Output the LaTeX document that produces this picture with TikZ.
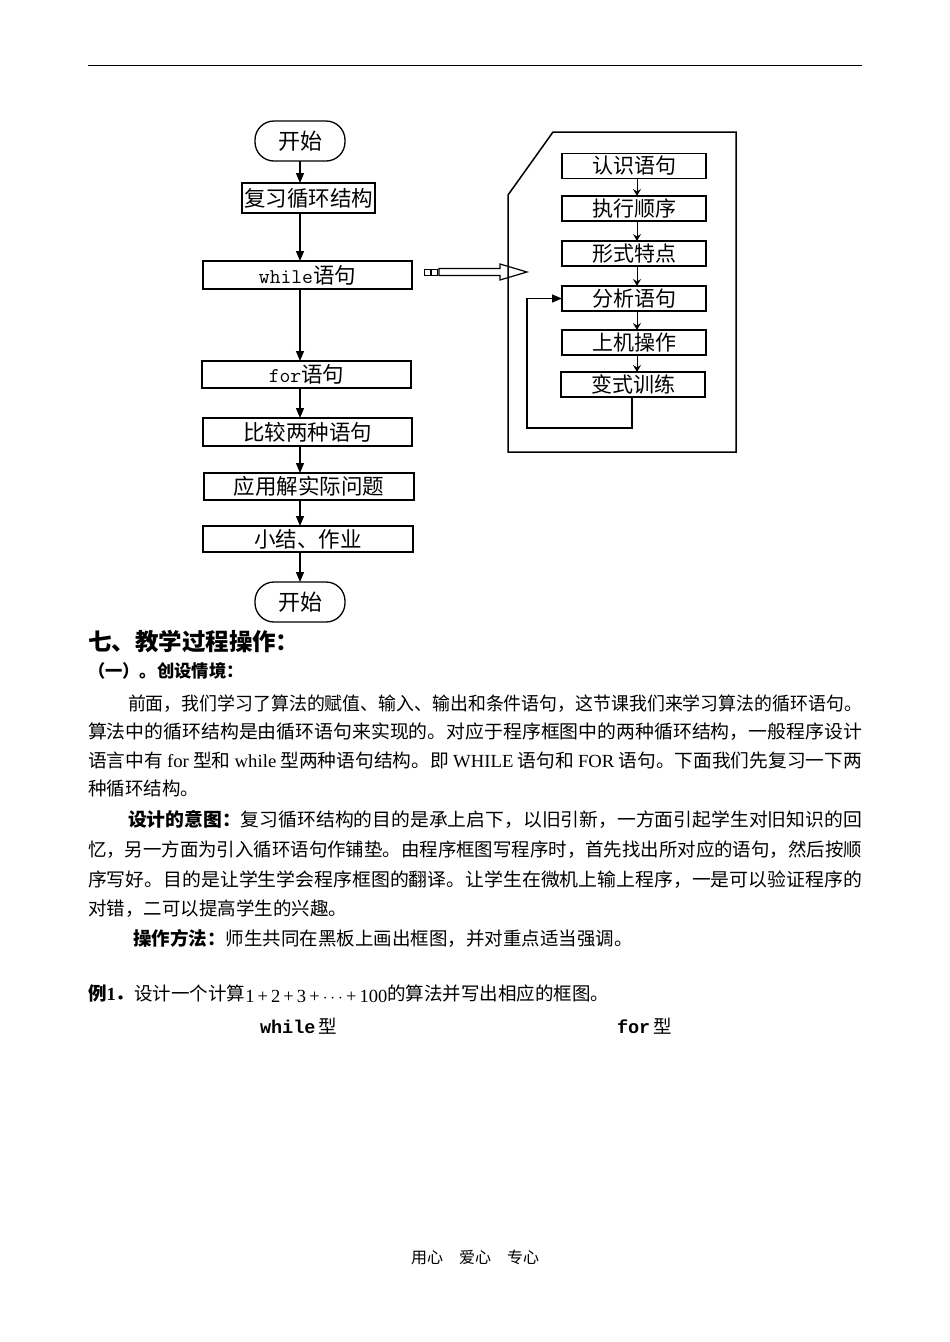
\documentclass[tikz,border=0pt]{standalone}
\usepackage{fontspec}
\usepackage{graphicx}
\setmainfont{Noto Sans CJK SC}
\newfontfamily\tm{Liberation Serif}
\newfontfamily\mono{Liberation Mono}
\newfontfamily\lmono{Latin Modern Mono}
\usetikzlibrary{arrows.meta,calc}
\newcommand\fitto[2]{\resizebox{#1}{\height}{#2}}
\begin{document}
\begin{tikzpicture}[x=1pt,y=-1pt,
 every node/.style={inner sep=0pt, outer sep=0pt},
 box/.style={draw, line width=1.3pt, minimum height=27pt, font=\fontsize{21.5}{24}\selectfont},
 oval/.style={draw, line width=1.3pt, rounded corners=19pt, minimum width=90pt, minimum height=40pt, font=\fontsize{22}{24}\selectfont},
 rbox/.style={draw, line width=1.3pt, minimum width=144pt, minimum height=25pt, font=\fontsize{21}{24}\selectfont},
 arr/.style={line width=1.3pt, -{Triangle[width=8pt,length=10pt]}},
 sarr/.style={line width=1pt, -{Stealth[width=8pt,length=7pt,inset=2.5pt]}},
 txt/.style={anchor=base west, font=\fontsize{18.5}{22}\selectfont},
]
\useasboundingbox (0,0) rectangle (950,1342);
% top rule
\draw[line width=1pt] (88,65) -- (862,65);

% main column
\node[oval] (start) at (300,141) {开始};
\node[box, minimum width=133pt, minimum height=30pt] (review) at (308.5,198) {复习循环结构};
\node[box, minimum width=209pt, minimum height=28pt] (while) at (307.5,275) {{\lmono\fontsize{21}{24}\selectfont while}语句};
\node[box, minimum width=209pt] (for) at (306.5,374.5) {{\lmono\fontsize{21}{24}\selectfont for}语句};
\node[box, minimum width=209pt, minimum height=28pt] (compare) at (307.5,432) {比较两种语句};
\node[box, minimum width=210pt] (apply) at (309,486.5) {应用解实际问题};
\node[box, minimum width=210pt, minimum height=26pt] (summary) at (308,539) {小结、作业};
\node[oval] (end) at (300,602) {开始};

\draw[arr] (start.south) -- (start.south |- review.north);
\draw[arr] (review.south -| start) -- (while.north -| start);
\draw[arr] (while.south -| start) -- (for.north -| start);
\draw[arr] (for.south -| start) -- (compare.north -| start);
\draw[arr] (compare.south -| start) -- (apply.north -| start);
\draw[arr] (apply.south -| start) -- (summary.north -| start);
\draw[arr] (summary.south -| start) -- (end.north);

% container
\coordinate (c1) at (553,132);
\coordinate (c2) at (736,132);
\coordinate (c3) at (736,452);
\coordinate (c4) at (508,452);
\coordinate (c5) at (508,195);
\draw[line width=1.5pt] (c1) -- (c2) -- (c3) -- (c4) -- (c5) -- cycle;

% right column
\node[rbox] (r1) at (634,166) {认识语句};
\node[rbox] (r2) at (634,208.5) {执行顺序};
\node[rbox] (r3) at (634,253.5) {形式特点};
\node[rbox] (r4) at (634,298.5) {分析语句};
\node[rbox] (r5) at (634,342.5) {上机操作};
\node[rbox] (r6) at (633,384.5) {变式训练};
\coordinate (ax) at (637,0);
\draw[sarr] (r1.south -| ax) -- (r2.north -| ax);
\draw[sarr] (r2.south -| ax) -- (r3.north -| ax);
\draw[sarr] (r3.south -| ax) -- (r4.north -| ax);
\draw[sarr] (r4.south -| ax) -- (r5.north -| ax);
\draw[sarr] (r5.south -| ax) -- (r6.north -| ax);
\coordinate (lp) at (527,428);
\draw[arr] ([xshift=-1pt]r6.south) |- (lp) |- (r4.west);

% hollow double arrow
\coordinate (da) at ($(while.east)+(12,-3)$);
\draw[line width=1pt] ($(da)+(0,-3)$) rectangle ($(da)+(6,3)$);
\draw[line width=1pt] ($(da)+(7,-3)$) rectangle ($(da)+(13,3)$);
\draw[line width=1.2pt] ($(da)+(15,-3.5)$) -- ($(da)+(76,-3.5)$) -- ($(da)+(76,-8)$) -- ($(da)+(103,0)$)
  -- ($(da)+(76,8)$) -- ($(da)+(76,3.5)$) -- ($(da)+(15,3.5)$) -- cycle;

% text
\node[anchor=base west, font=\fontsize{23.5}{26}\selectfont\bfseries] (title) at (88,650) {七、教学过程操作：};
\node[anchor=base west, font=\fontsize{17.3}{20}\selectfont\bfseries] (sub) at (88,677) {（一）。创设情境：};

\node[txt] (p1a) at (128,710) {\fitto{734pt}{前面，我们学习了算法的赋值、输入、输出和条件语句，这节课我们来学习算法的循环语句。}};
\node[txt] (p1b) at (88,738) {\fitto{774pt}{算法中的循环结构是由循环语句来实现的。对应于程序框图中的两种循环结构，一般程序设计}};
\node[txt] (p1c) at (88,767) {\fitto{774pt}{语言中有 {\tm for} 型和 {\tm while} 型两种语句结构。即 {\tm WHILE} 语句和 {\tm FOR} 语句。下面我们先复习一下两}};
\node[txt] (p1d) at (88,795) {种循环结构。};

\node[txt] (p2a) at (128,826) {\fitto{734pt}{\textbf{设计的意图：}复习循环结构的目的是承上启下，以旧引新，一方面引起学生对旧知识的回}};
\node[txt] (p2b) at (88,856) {\fitto{774pt}{忆，另一方面为引入循环语句作铺垫。由程序框图写程序时，首先找出所对应的语句，然后按顺}};
\node[txt] (p2c) at (88,886) {\fitto{774pt}{序写好。目的是让学生学会程序框图的翻译。让学生在微机上输上程序，一是可以验证程序的}};
\node[txt] (p2d) at (88,915) {对错，二可以提高学生的兴趣。};
\node[txt] (p3) at (133,945) {\textbf{操作方法：}师生共同在黑板上画出框图，并对重点适当强调。};

\node[txt] (ex) at (88,1000) {\textbf{例{\tm 1}．}设计一个计算\raisebox{-2pt}{\tm 1\,+\,2\,+\,3\,+\,$\cdots$\,+\,100}的算法并写出相应的框图。};
\node[txt] (tw) at (260,1033) {{\mono\bfseries while}\,型};
\node[txt] (tf) at (617,1033) {{\mono\bfseries for}\,型};

\node[anchor=base, font=\fontsize{16}{18}\selectfont] (foot) at (475,1263) {用心　爱心　专心};
\end{tikzpicture}
\end{document}
